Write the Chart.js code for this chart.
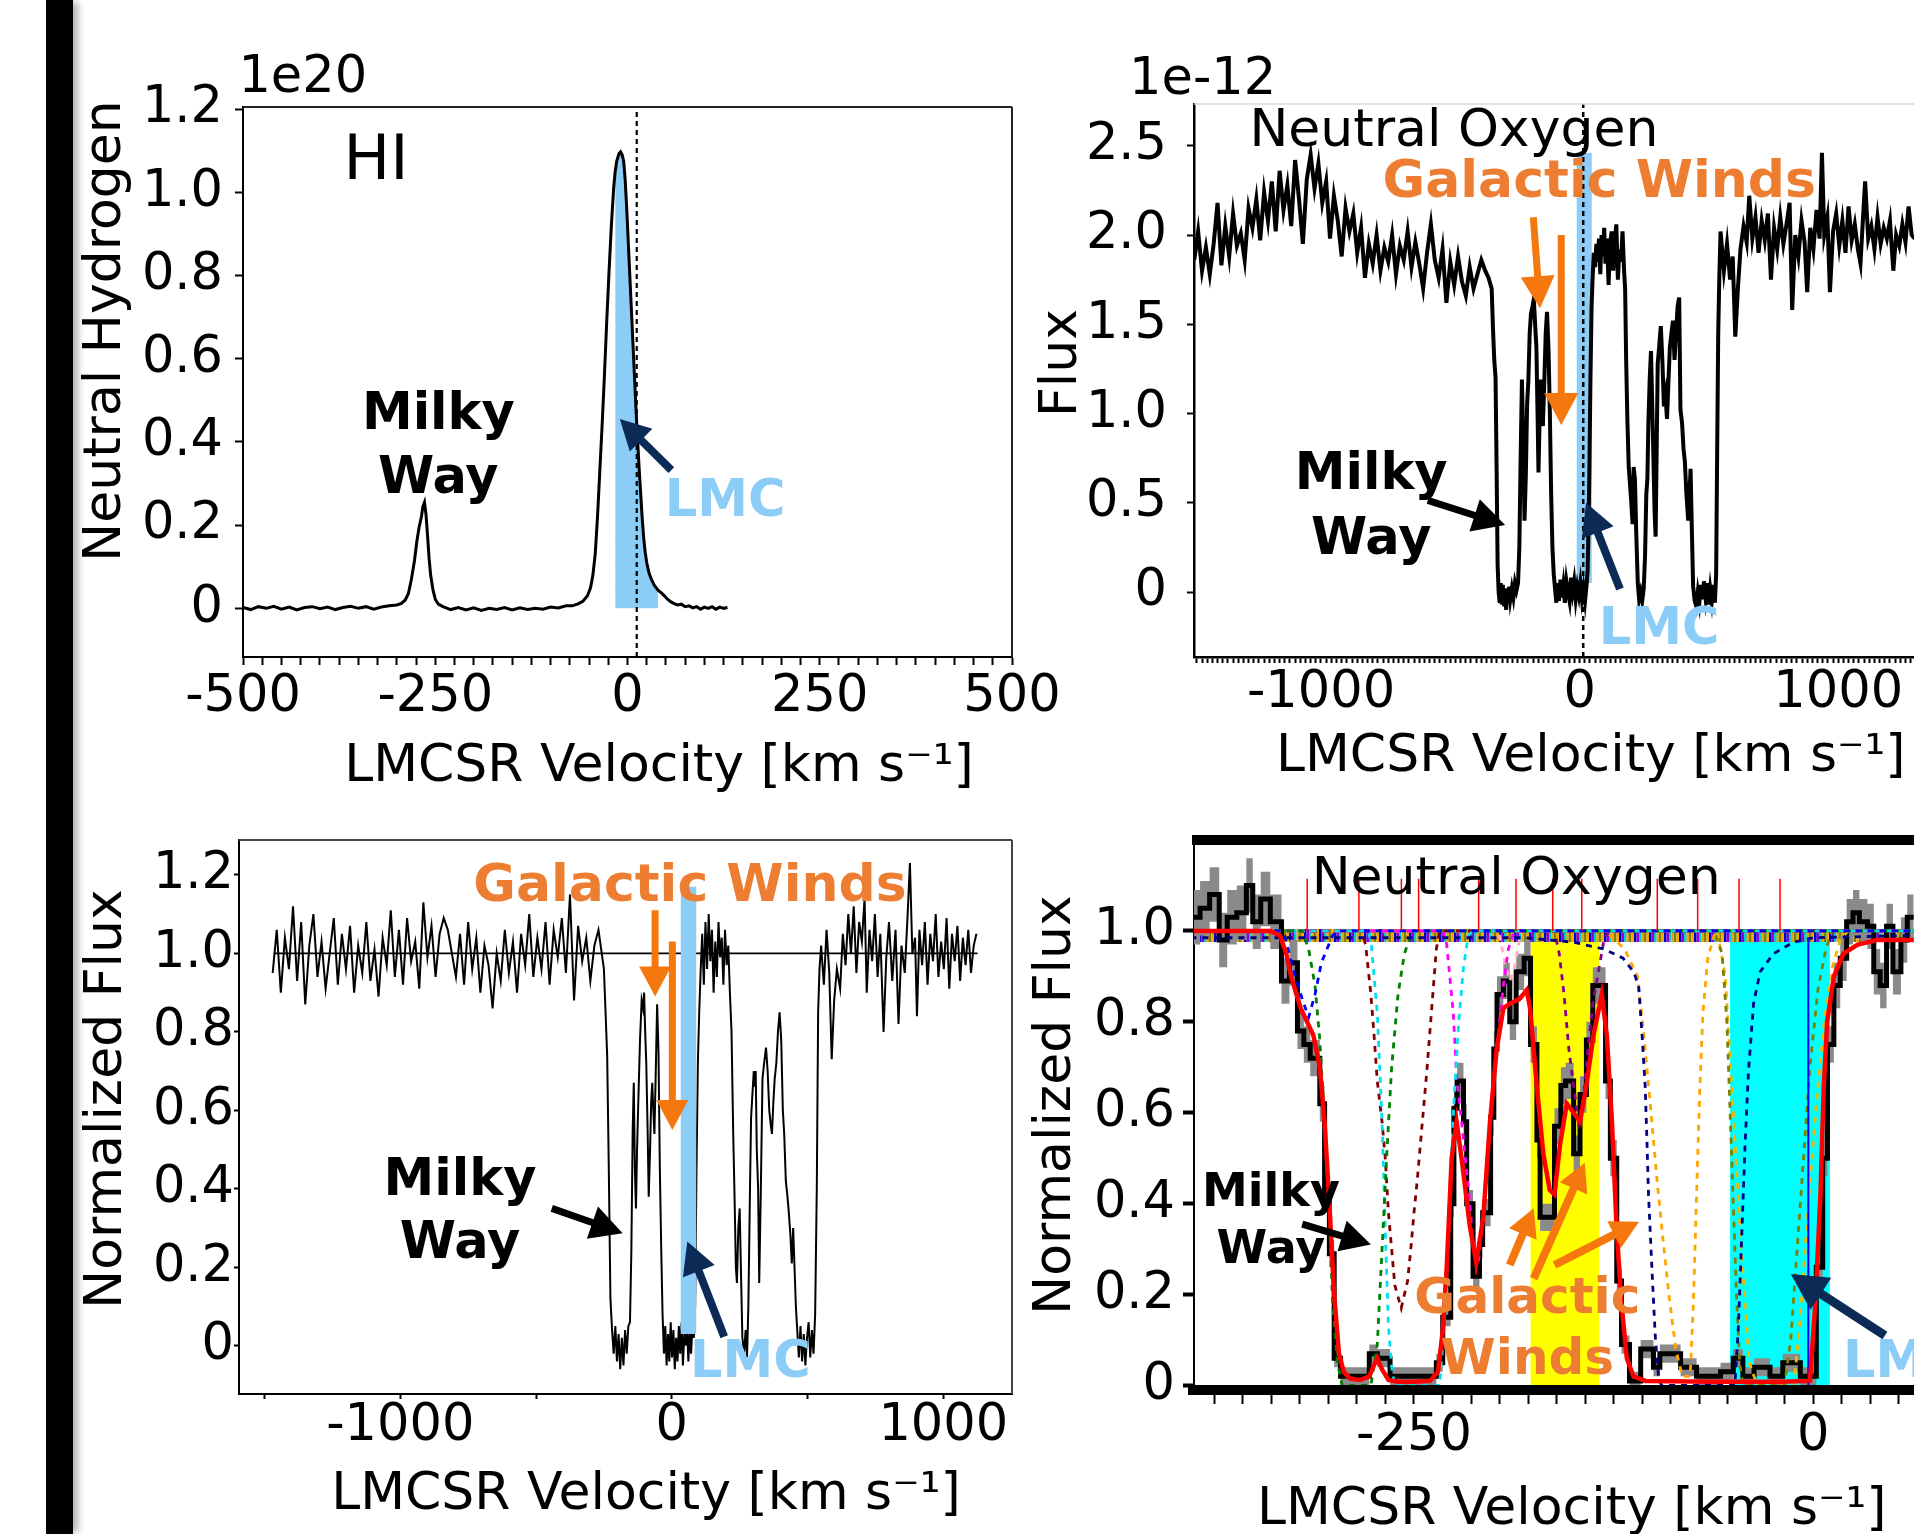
<!DOCTYPE html>
<html>
<head>
<meta charset="utf-8">
<script src="https://cdn.jsdelivr.net/npm/chart.js@4.4.1/dist/chart.umd.min.js"></script>
<style>
html, body { margin:0; padding:0; background:#fff; }
body { width:1914px; height:1534px; position:relative; overflow:hidden; }
#bar { position:absolute; left:46px; top:0; width:27px; height:1534px; background:#000; box-shadow:7px 0 7px -2px rgba(0,0,0,0.3); }
canvas { position:absolute; }
</style>
</head>
<body>
<div id="bar"></div>
<canvas id="hi"></canvas>
<canvas id="oi"></canvas>
<canvas id="norm"></canvas>
<canvas id="fit"></canvas>
<script>
// ---- HI 21cm column (units of 1e20) ----
var hiVel = [-500,-490,-480,-470,-460,-450,-440,-430,-420,-410,
  -400,-390,-380,-370,-360,-350,-340,-330,-320,-310,
  -300,-294,-289,-285,-281,-277,-274,-271,-268,-266,
  -264,-262,-260,-258,-256,-253,-250,-246,-240,-230,
  -220,-210,-200,-190,-180,-170,-160,-150,-140,-130,
  -120,-110,-100,-90,-80,-72,-65,-58,-52,-48,
  -45,-42,-39,-36,-33,-30,-27,-24,-21,-18,
  -16,-14,-11,-9,-7,-5,-3,-1,1,3,
  5,7,9,11,13,15,17,19,21,23,
  25,28,31,35,40,44,48,52,56,60,
  65,70,75,80,85,90,95,100,105,110,
  115,120,125,130];
var hiCol = [0.002,-0.003,0.004,0.0,0.005,-0.002,0.003,-0.004,0.002,0.004,
  -0.001,0.003,-0.003,0.002,0.005,0.0,0.004,-0.002,0.003,0.006,
  0.008,0.012,0.02,0.035,0.07,0.115,0.16,0.195,0.22,0.245,
  0.255,0.225,0.175,0.12,0.08,0.045,0.022,0.01,0.004,-0.003,
  0.002,-0.004,0.001,-0.005,0.0,-0.003,0.002,-0.004,0.001,-0.003,
  0.0,-0.002,0.003,0.001,0.006,0.006,0.01,0.017,0.03,0.05,
  0.08,0.13,0.22,0.33,0.44,0.56,0.69,0.81,0.92,1.01,
  1.05,1.075,1.093,1.097,1.09,1.075,1.03,0.96,0.88,0.80,
  0.72,0.64,0.56,0.48,0.41,0.34,0.28,0.22,0.17,0.135,
  0.11,0.085,0.07,0.055,0.043,0.037,0.03,0.022,0.016,0.012,
  0.008,0.01,0.004,0.006,0.001,0.004,-0.002,0.003,0.0,0.004,
  -0.002,0.003,0.0,0.002];
var hiLmcRange = [-16, 40];
var hiRefVel = 12;

// ---- OI flux (units of 1e-12) ----
var oiVelA = [-1490,-1475,-1460,-1445,-1430,-1415,-1400,-1385,-1370,-1355,
  -1340,-1325,-1310,-1295,-1280,-1265,-1250,-1235,-1220,-1205,
  -1190,-1175,-1160,-1145,-1130,-1115,-1100,-1085,-1070,-1055,
  -1040,-1025,-1010,-995,-980,-965,-950,-935,-920,-905,
  -890,-875,-860,-845,-830,-815,-800,-785,-770,-755,
  -740,-725,-710,-695,-680,-665,-650,-635,-620,-605,
  -590,-575,-560,-545,-530,-515,-500,-485,-470,-455,
  -440,-425,-410,-395,-380,-365,-352];
var oiFluxA = [1.86,2.02,1.80,1.93,1.78,1.95,2.18,1.83,2.05,1.88,
  2.12,1.94,2.01,1.86,2.15,2.04,2.20,1.97,2.24,2.08,
  2.30,2.02,2.36,2.14,2.28,2.05,2.42,2.20,1.95,2.31,
  2.45,2.26,2.40,2.18,2.30,1.98,2.22,2.08,1.88,2.15,
  2.02,2.12,1.90,2.04,1.76,1.95,1.84,2.00,1.80,1.93,
  1.85,2.00,1.78,1.94,1.86,2.02,1.82,1.96,1.84,1.70,
  1.90,2.06,1.86,1.76,1.92,1.62,1.85,1.72,1.88,1.74,
  1.66,1.82,1.70,1.78,1.86,1.80,1.76];
var oiVelB = [-340,-335,-330,-325,-321,-317,-313,-309,-305,-301,
  -297,-292,-288,-284,-280,-276,-272,-268,-262,-256,
  -250,-244,-238,-233,-228,-223,-218,-213,-208,-203,
  -198,-193,-188,-182,-177,-172,-167,-162,-159,-155,
  -152,-147,-142,-136,-131,-126,-120,-115,-110,-105,
  -100,-95,-90,-85,-80,-74,-69,-63,-57,-51,
  -45,-39,-33,-27,-21,-15,-9,-3,3,9,
  15,21,27,31,35,38,42,46,50,55,
  60,65,70,75,80,85,90,95,100,106,
  112,118,124,130,136,142,148,154,160,166,
  172,176,180,185,190,195,200,205,209,214,
  219,225,230,236,242,248,253,258,262,266,
  271,276,280,285,290,294,298,302,308,314,
  320,326,332,338,344,349,355,361,367,373,
  379,385,390,396,402,407,413,420,425,429,
  434,439,445,451,457,463,469,475,481,487,
  493,499,505,511,517,523,528,532,536,540];
var oiFluxB = [1.70,1.48,1.30,1.20,0.70,0.15,0.00,-0.06,0.05,-0.07,
  0.04,-0.08,0.02,-0.10,0.00,-0.05,0.03,-0.04,0.02,-0.03,
  0.05,0.01,0.05,0.25,0.75,1.19,0.85,0.40,0.65,1.05,
  1.19,1.45,1.56,1.60,1.64,1.50,1.37,0.95,0.67,0.95,
  1.19,1.05,0.93,1.20,1.45,1.57,1.35,1.00,0.55,0.25,
  0.10,0.02,-0.06,0.05,-0.05,0.07,-0.03,0.04,-0.06,0.06,
  0.00,-0.05,0.08,0.00,0.06,-0.04,0.03,-0.02,0.05,-0.04,
  0.02,-0.05,0.04,0.12,0.40,0.70,1.20,1.58,1.75,1.90,
  1.82,1.95,1.85,1.98,1.78,2.00,1.88,2.04,1.84,1.98,
  1.72,1.95,2.02,1.80,1.96,2.06,1.75,1.92,1.85,2.02,
  1.80,1.70,1.30,0.95,0.70,0.60,0.50,0.38,0.70,0.63,
  0.33,0.05,-0.04,0.00,-0.05,0.02,0.20,0.55,0.63,0.95,
  1.19,1.35,1.10,0.78,0.45,0.31,0.80,1.28,1.38,1.49,
  1.30,1.04,1.10,0.97,1.20,1.37,1.45,1.52,1.30,1.45,
  1.60,1.65,1.02,0.95,0.80,0.73,0.55,0.40,0.55,0.69,
  0.35,0.03,-0.05,-0.08,0.00,-0.06,0.04,-0.04,0.06,-0.03,
  0.05,-0.07,0.02,-0.05,0.04,-0.06,0.10,0.80,1.45,1.75];
var oiVelC = [545,558,570,582,592,602,612,622,634,646,
  656,668,680,692,704,716,728,740,752,764,
  776,788,800,812,822,834,846,858,870,880,
  892,904,916,928,937,946,958,968,980,992,
  1004,1016,1028,1040,1052,1064,1076,1086,1096,1104,
  1116,1128,1140,1152,1164,1176,1188,1200,1213,1224,
  1236,1248,1260,1272,1284,1296];
var oiFluxC = [2.02,1.80,1.95,1.75,1.88,1.43,1.70,1.92,2.05,1.96,
  2.22,1.98,2.10,1.90,2.08,1.97,2.12,1.75,2.04,1.92,
  2.10,1.95,2.06,2.18,1.58,2.00,1.88,2.08,1.96,1.68,
  2.04,1.92,2.14,1.98,2.46,2.00,2.10,1.68,2.02,2.12,
  1.94,2.08,1.90,2.16,1.97,2.06,1.92,1.84,2.10,2.30,
  1.98,2.05,1.92,2.10,1.95,2.04,1.98,2.08,1.80,2.00,
  1.94,2.06,1.96,2.16,2.00,1.98];
var oiLmcBand = [-11, 47, 0.05, 2.46];
var oiRefVel = 14;

// ---- normalized OI ----
var nVelA = [-1470,-1455,-1440,-1425,-1410,-1395,-1380,-1365,-1350,-1335,
  -1320,-1305,-1290,-1275,-1260,-1245,-1230,-1215,-1200,-1185,
  -1170,-1155,-1140,-1125,-1110,-1095,-1080,-1065,-1050,-1035,
  -1020,-1005,-990,-975,-960,-945,-930,-915,-900,-885,
  -870,-855,-840,-825,-810,-795,-780,-765,-750,-735,
  -720,-705,-690,-675,-660,-645,-630,-615,-600,-585,
  -570,-555,-540,-525,-510,-495,-480,-465,-450,-435,
  -420,-405,-390,-375,-360,-345,-330,-315,-300,-285,
  -270,-258];
var nFluxA = [0.95,1.06,0.90,1.04,0.96,1.12,0.93,1.08,0.87,1.02,
  1.10,0.94,1.03,0.91,1.00,1.09,0.92,1.05,0.96,1.07,
  0.90,1.02,0.95,1.08,0.93,1.01,0.89,1.04,0.97,1.11,
  0.94,1.06,0.92,1.09,0.98,1.03,0.91,1.13,0.99,1.07,
  0.94,1.05,1.09,1.06,1.00,0.94,1.05,0.92,1.08,0.96,
  1.04,0.90,1.02,0.97,0.86,1.00,0.93,1.06,0.95,1.03,
  0.90,1.05,0.97,1.10,0.94,1.04,0.96,1.08,0.92,1.06,
  0.99,1.09,0.95,1.15,0.88,1.07,0.98,1.04,0.93,1.02,
  1.06,1.00];
var nVelB = [-250,-244,-238,-232,-226,-220,-214,-208,-202,-196,
  -190,-184,-178,-172,-166,-160,-154,-149,-144,-140,
  -136,-132,-128,-123,-117,-111,-106,-102,-98,-94,
  -89,-85,-80,-76,-72,-68,-64,-59,-54,-49,
  -44,-39,-34,-29,-24,-19,-14,-9,-4,1,
  6,11,16,21,26,31,36,41,46,51,
  56,61,66,71,76,81,86,91,96,101,
  106,112,118,124,130,136,142,148,154,160,
  166,172,178,184,190,196,202,208,214,220,
  226,232,236,240,245,250,255,260,266,272,
  277,282,288,292,296,302,306,309,313,318,
  322,328,334,340,347,353,359,365,369,374,
  379,385,391,397,403,409,414,420,426,431,
  437,442,447,452,457,462,468,474,480,486,
  492,498,504,510,516,522,528,534,539,544];
var nFluxB = [0.96,0.85,0.74,0.45,0.12,0.04,-0.02,0.05,-0.04,0.03,
  -0.06,0.02,-0.05,0.04,-0.02,0.05,0.06,0.24,0.55,0.67,
  0.45,0.35,0.50,0.63,0.78,0.88,0.86,0.90,0.80,0.72,
  0.55,0.38,0.50,0.62,0.67,0.60,0.54,0.70,0.87,0.75,
  0.45,0.25,0.08,-0.02,0.05,-0.05,0.03,-0.04,0.06,-0.03,
  0.04,-0.06,0.02,-0.04,0.05,-0.02,0.06,-0.05,0.03,0.00,
  0.05,-0.04,0.04,-0.02,0.05,0.02,0.10,0.45,0.72,0.85,
  0.95,1.05,0.92,1.08,0.96,1.10,0.98,1.06,0.90,1.03,
  0.94,1.08,0.99,1.04,0.92,1.06,0.97,1.02,0.90,0.80,
  0.55,0.35,0.20,0.16,0.30,0.35,0.18,0.02,-0.02,0.04,
  -0.03,0.10,0.40,0.58,0.63,0.70,0.66,0.70,0.50,0.40,
  0.16,0.40,0.68,0.72,0.76,0.70,0.60,0.56,0.54,0.62,
  0.68,0.72,0.80,0.85,0.78,0.60,0.54,0.42,0.38,0.34,
  0.28,0.21,0.30,0.20,0.10,0.04,-0.03,0.05,-0.04,0.03,
  -0.05,0.02,0.06,-0.03,0.04,-0.02,0.08,0.40,0.85,0.96];
var nVelC = [550,560,570,580,589,598,608,620,630,640,
  650,660,670,680,690,700,710,718,728,738,
  748,758,768,780,790,800,812,824,835,846,
  858,868,877,886,896,903,912,922,932,942,
  952,962,972,982,992,1002,1012,1022,1032,1042,
  1052,1062,1072,1082,1092,1102,1112,1122];
var nFluxC = [1.02,0.92,1.06,0.95,0.73,0.88,0.96,0.91,1.05,0.97,
  1.10,1.00,1.12,0.95,1.08,1.03,1.14,0.90,1.06,0.98,
  1.10,0.94,1.05,0.80,0.99,1.08,0.93,1.06,0.82,1.02,
  0.95,1.09,1.23,1.00,1.04,0.84,1.06,0.97,1.08,0.92,
  1.05,0.98,1.10,0.94,1.03,0.96,1.09,0.91,1.05,0.98,
  1.07,0.93,1.04,0.97,1.06,0.95,1.02,1.05];
var nContVel = [-1466, 1126];
var nLmcBand = [33, 90, 0.03, 1.17];

// ---- Voigt fit panel ----
var fitVel = [-390,-384,-378,-372,-367,-361,-355,-351,-346,-340,
  -333,-328,-323,-319,-315,-309,-306,-303,-300,-296,
  -278,-273,-265,-236,-232,-227,-225,-223,-219,-217,
  -213,-209,-207,-202,-200,-198,-194,-190,-186,-181,
  -177,-173,-171,-162,-158,-155,-150,-146,-142,-138,
  -130,-127,-123,-120,-115,-108,-100,-96,-83,-73,
  -58,-50,-44,-37,-27,-19,-8,2,6,9,
  13,17,21,25,29,34,38,42,46,50,
  55,59,63];
var fitFlux = [1.03,1.05,1.08,0.98,1.03,1.04,1.10,1.02,1.07,1.02,
  0.89,0.93,0.78,0.75,0.72,0.62,0.42,0.29,0.06,0.02,
  0.07,0.06,0.02,0.05,0.15,0.40,0.61,0.67,0.58,0.40,
  0.24,0.31,0.38,0.59,0.74,0.86,0.89,0.80,0.91,0.94,
  0.75,0.54,0.37,0.57,0.66,0.67,0.51,0.64,0.76,0.88,
  0.67,0.50,0.23,0.09,0.01,0.08,0.04,0.07,0.04,0.02,
  0.03,0.06,0.02,0.04,0.02,0.05,0.02,0.26,0.50,0.75,
  0.88,0.94,1.02,1.04,1.02,1.01,0.91,0.88,1.01,0.91,
  0.98,1.03,1.03];
var fitErr = [0.06,0.06,0.06,0.06,0.06,0.06,0.06,0.06,0.06,0.06,
  0.05,0.05,0.04,0.04,0.04,0.04,0.03,0.03,0.02,0.02,
  0.02,0.02,0.02,0.02,0.02,0.03,0.04,0.04,0.04,0.03,
  0.03,0.03,0.03,0.04,0.04,0.04,0.04,0.04,0.04,0.04,
  0.04,0.04,0.03,0.04,0.04,0.04,0.04,0.04,0.04,0.04,
  0.04,0.04,0.03,0.02,0.02,0.02,0.02,0.02,0.02,0.02,
  0.02,0.02,0.02,0.02,0.02,0.02,0.02,0.03,0.04,0.04,
  0.05,0.05,0.05,0.05,0.05,0.05,0.05,0.05,0.05,0.05,
  0.05,0.05,0.05];
var modelVel = [-390,-340,-334,-330,-327,-321,-317,-313,-309,-306,
  -303,-300,-297,-294,-290,-284,-278,-275,-273,-270,
  -266,-260,-250,-240,-235,-232,-229.5,-226.4,-223.3,-220.2,
  -215,-211,-206.6,-202.4,-198.2,-194,-190,-184,-179.4,-177.3,
  -173.1,-169,-165,-162,-158.5,-154.3,-150,-146,-142,-137.6,
  -132.4,-129.2,-126,-123,-120,-116.7,-112.5,-105,-60,-20,
  -2,1.4,4.6,6.7,8.8,13,19,28,40,63];
var modelFlux = [1.0,1.0,0.99,0.95,0.90,0.83,0.80,0.77,0.70,0.58,
  0.40,0.20,0.07,0.03,0.015,0.012,0.02,0.045,0.06,0.035,
  0.012,0.008,0.008,0.01,0.03,0.12,0.26,0.50,0.58,0.50,
  0.35,0.27,0.37,0.58,0.74,0.83,0.84,0.85,0.87,0.83,
  0.66,0.51,0.43,0.42,0.53,0.62,0.60,0.58,0.66,0.77,
  0.86,0.77,0.58,0.34,0.18,0.06,0.02,0.01,0.008,0.008,
  0.01,0.18,0.42,0.66,0.80,0.90,0.95,0.97,0.98,0.98];
// individual components: [velocity, flux] knots
var compBlue = [[-390,1],[-334,1],[-331,0.99],[-326,0.92],[-320,0.85],[-316,0.81],[-312,0.86],[-308,0.93],[-301,0.99],[-298,1],[63,1]];
var compGreen = [[-390,1],[-320,1],[-316,0.96],[-312,0.88],[-309,0.76],[-306,0.58],[-303,0.38],[-301,0.18],[-298,0.05],[-295,0],[-277,0],[-273,0.09],[-270,0.30],[-267,0.51],[-264,0.70],[-260,0.86],[-256,0.95],[-251,1],[63,1]];
var compCyan = [[-390,1],[-279,1],[-277,0.98],[-273,0.82],[-270,0.58],[-268,0.34],[-266,0.13],[-264,0.04],[-262,0],[-234,0],[-231,0.13],[-228,0.40],[-225,0.62],[-222,0.80],[-219,0.92],[-216,0.99],[-213,1],[63,1]];
var compMaroon = [[-390,1],[-282,1],[-280,0.96],[-277,0.86],[-275,0.77],[-273,0.67],[-270,0.58],[-268,0.50],[-266,0.38],[-264,0.30],[-262,0.22],[-258,0.17],[-254,0.23],[-252,0.30],[-250,0.38],[-248,0.45],[-246,0.53],[-244,0.61],[-242,0.69],[-240,0.78],[-238,0.87],[-236,0.96],[-234,1],[63,1]];
var compMagenta = [[-390,1],[-232,1],[-229.5,0.97],[-225.4,0.82],[-223.3,0.68],[-219,0.54],[-215,0.40],[-212.8,0.30],[-209.7,0.27],[-206.6,0.38],[-202.4,0.58],[-198.2,0.74],[-194,0.88],[-190.9,0.96],[-187,1],[63,1]];
var compPink = [[-390,1],[-197,1],[-193,0.93],[-190,0.89],[-187,0.92],[-183,1],[63,1]];
var compPurple = [[-390,1],[-162,1],[-159,0.95],[-156,0.86],[-153,0.74],[-150,0.66],[-147,0.58],[-144,0.63],[-141,0.74],[-138,0.84],[-134,0.92],[-131,0.98],[-128,1],[63,1]];
var compNavy = [[-390,0.985],[-180,0.985],[-150,0.975],[-131,0.96],[-119,0.94],[-112.5,0.91],[-109.3,0.88],[-107.3,0.78],[-105.2,0.66],[-104.1,0.54],[-103.1,0.42],[-101,0.26],[-98.9,0.11],[-96.8,0.02],[-95,0],[-49,0],[-46.8,0.13],[-44.7,0.33],[-42.6,0.53],[-40.5,0.69],[-37.3,0.84],[-33.2,0.91],[-24.8,0.95],[-12.3,0.975],[0.3,0.985],[63,0.99]];
var compOrange = [[-390,1],[-130,1],[-118,0.96],[-110,0.9],[-106,0.77],[-102,0.62],[-98,0.46],[-94,0.32],[-90,0.19],[-86,0.08],[-82,0.02],[-77,0.02],[-75,0.18],[-73,0.42],[-71,0.65],[-69,0.82],[-66,0.94],[-62,0.99],[-58,1],[63,1]];
var compOlive = [[-390,1],[-62,1],[-57,0.95],[-54,0.8],[-52,0.6],[-50,0.4],[-48,0.2],[-46,0.05],[-44,0],[-18,0],[-14,0.1],[-10,0.3],[-6,0.5],[-2,0.7],[3,0.87],[8,0.96],[12,1],[63,1]];
var compGold = [[-390,1],[-60,1],[-55,0.9],[-50,0.6],[-45,0.3],[-40,0.05],[-35,0],[-12,0],[-8,0.15],[-3,0.4],[2,0.62],[7,0.8],[12,0.92],[17,0.98],[22,1],[63,1]];
var compMarkers = [-316.9,-284.5,-257.9,-247.1,-209.5,-186.1,-163.1,-144.9,-97.6,-72.3,-46.4,-20.7];
var markerTop = 1.115;
var fitLmcLine = -3;
var windBand = [-177, -134];
var lmcBand = [-52, 10.5];

// ---- drawing helpers ----
var FONT = '"DejaVu Sans", Verdana, sans-serif';
var LMC_BLUE = '#8BCDF7', NAVY = '#0B2A55', OR_TXT = '#ED7D31', OR_ARR = '#F5780F';

function pts(xs, ys) { return xs.map(function (x, i) { return {x: x, y: ys[i]}; }); }
function knots(k) { return k.map(function (p) { return {x: p[0], y: p[1]}; }); }
function range(a, b, s) { var r = []; for (var v = a; v <= b + 1e-9; v += s) r.push(v); return r; }

function arrow(ctx, x1, y1, x2, y2, w, hl, hw, color) {
  var dx = x2 - x1, dy = y2 - y1, L = Math.hypot(dx, dy), ux = dx / L, uy = dy / L;
  var bx = x2 - ux * hl, by = y2 - uy * hl;
  ctx.strokeStyle = color; ctx.fillStyle = color; ctx.lineWidth = w; ctx.lineCap = 'butt';
  ctx.beginPath(); ctx.moveTo(x1, y1); ctx.lineTo(bx + ux * 2, by + uy * 2); ctx.stroke();
  ctx.beginPath(); ctx.moveTo(x2, y2);
  ctx.lineTo(bx - uy * hw / 2, by + ux * hw / 2);
  ctx.lineTo(bx + uy * hw / 2, by - ux * hw / 2);
  ctx.closePath(); ctx.fill();
}

function deco(d) {
  function px(c, v) { return c.scales.x.getPixelForValue(v); }
  function py(c, v) { return c.scales.y.getPixelForValue(v); }
  function spans(c, list) {
    var ctx = c.ctx, a = c.chartArea;
    ctx.save(); ctx.beginPath(); ctx.rect(a.left, a.top, a.width, a.height); ctx.clip();
    list.forEach(function (s) {
      var x0 = px(c, s.x0), x1 = px(c, s.x1), y0 = py(c, s.y0), y1 = py(c, s.y1);
      ctx.fillStyle = s.color; ctx.fillRect(x0, y1, x1 - x0, y0 - y1);
    });
    ctx.restore();
  }
  return {
    id: 'deco',
    beforeDatasetsDraw: function (c) {
      var ctx = c.ctx, a = c.chartArea;
      if (d.spans) spans(c, d.spans);
      if (d.hatch) {
        var h = d.hatch, yy = py(c, h.y), n = h.colors.length;
        ctx.save(); ctx.lineWidth = h.width;
        h.colors.forEach(function (col, i) {
          ctx.strokeStyle = col; ctx.setLineDash([h.dash, h.dash * (n - 1)]);
          ctx.lineDashOffset = -i * h.dash;
          ctx.beginPath(); ctx.moveTo(a.left, yy); ctx.lineTo(a.right, yy); ctx.stroke();
        });
        ctx.restore();
      }
    },
    afterDatasetsDraw: function (c) {
      var ctx = c.ctx, a = c.chartArea;
      if (d.spansTop) spans(c, d.spansTop);
      ctx.save();
      (d.frame || []).forEach(function (f) {
        ctx.strokeStyle = f.color; ctx.lineWidth = f.width; ctx.beginPath();
        var e = f.ext || 0;
        if (f.side === 'top') { ctx.moveTo(a.left - e, a.top); ctx.lineTo(a.right, a.top); }
        if (f.side === 'bottom') { ctx.moveTo(a.left - e, a.bottom); ctx.lineTo(a.right, a.bottom); }
        if (f.side === 'right') { ctx.moveTo(a.right, a.top); ctx.lineTo(a.right, a.bottom); }
        if (f.side === 'left') { ctx.moveTo(a.left, a.top); ctx.lineTo(a.left, a.bottom); }
        ctx.stroke();
      });
      (d.arrows || []).forEach(function (r) {
        arrow(ctx, px(c, r.x1), py(c, r.y1), px(c, r.x2), py(c, r.y2), r.w || 7, r.hl || 30, r.hw || 30, r.color);
      });
      ctx.textBaseline = 'middle';
      (d.texts || []).forEach(function (t) {
        ctx.font = (t.bold ? 'bold ' : '') + t.size + 'px ' + FONT;
        ctx.fillStyle = t.color || '#000'; ctx.textAlign = t.align || 'center';
        ctx.fillText(t.t, px(c, t.x), py(c, t.y));
      });
      (d.titles || []).forEach(function (t) {
        ctx.save();
        ctx.font = (t.size || 52) + 'px ' + FONT; ctx.fillStyle = '#000';
        ctx.textAlign = t.align || 'center';
        ctx.translate(t.x - d.off.left, t.y - d.off.top);
        if (t.rot) ctx.rotate(t.rot);
        ctx.fillText(t.t, 0, 0);
        ctx.restore();
      });
      ctx.restore();
    }
  };
}

function axis(o, horiz, size) {
  return {
    type: 'linear', min: o.min, max: o.max, position: horiz ? 'bottom' : 'left',
    afterFit: function (s) {
      if (horiz) { s.height = size; s.paddingLeft = 0; s.paddingRight = 0; }
      else { s.width = size; s.paddingTop = 0; s.paddingBottom = 0; }
    },
    afterBuildTicks: function (s) { s.ticks = o.ticks.map(function (v) { return {value: v}; }); },
    ticks: {
      autoSkip: false, maxRotation: 0, minRotation: 0, padding: o.pad, color: '#000',
      font: {family: FONT, size: o.fs || 51},
      callback: function (v) {
        for (var i = 0; i < o.labels.length; i++) if (Math.abs(o.labels[i] - v) < 1e-6) return o.fmt(o.labels[i]);
        return '';
      }
    },
    grid: {drawOnChartArea: false, drawTicks: true, tickLength: o.tl, tickWidth: o.tw || 2, tickColor: '#000'},
    border: {display: o.border !== false, color: '#000', width: o.bw || 2}
  };
}

function makeChart(id, g, datasets, xo, yo, d) {
  var cv = document.getElementById(id);
  cv.width = g.w; cv.height = g.h;
  cv.style.left = g.left + 'px'; cv.style.top = g.top + 'px';
  cv.style.width = g.w + 'px'; cv.style.height = g.h + 'px';
  d.off = g;
  return new Chart(cv, {
    type: 'line',
    data: {datasets: datasets},
    options: {
      responsive: false, animation: false, devicePixelRatio: 1, events: [],
      layout: {padding: {left: 0, top: g.t, right: g.w - g.r, bottom: 0}},
      plugins: {legend: {display: false}, tooltip: {enabled: false}},
      elements: {point: {radius: 0}, line: {tension: 0}},
      scales: {x: axis(xo, true, g.h - g.b), y: axis(yo, false, g.l)}
    },
    plugins: [deco(d)]
  });
}

function fmt1(v) { return v === 0 ? '0' : v.toFixed(1); }
function fmtInt(v) { return String(Math.round(v)); }
var VEL_TITLE = 'LMCSR Velocity [km s\u207B\u00B9]';

// ---- Panel 1: HI ----
var hiFill = pts(hiVel, hiCol).filter(function (p) { return p.x >= hiLmcRange[0] && p.x <= hiLmcRange[1]; });
makeChart('hi', {left: 75, top: 40, w: 1010, h: 770, l: 168, t: 67, r: 937, b: 617}, [
  {data: pts(hiVel, hiCol), borderColor: '#000', borderWidth: 3, order: 0},
  {data: [{x: hiRefVel, y: -0.117}, {x: hiRefVel, y: 1.205}], borderColor: '#000', borderWidth: 2.2, borderDash: [5, 4], order: 1},
  {data: hiFill, borderColor: 'rgba(0,0,0,0)', borderWidth: 0, backgroundColor: LMC_BLUE, fill: 'origin', order: 2}
], {min: -500, max: 500, ticks: range(-500, 500, 25), labels: [-500, -250, 0, 250, 500], fmt: fmtInt, tl: 8, pad: 2},
   {min: -0.117, max: 1.205, ticks: [0, 0.2, 0.4, 0.6, 0.8, 1.0, 1.2], labels: [0, 0.2, 0.4, 0.6, 0.8, 1.0, 1.2], fmt: fmt1, tl: 8, pad: 12},
{
  frame: [{side: 'top', color: '#222', width: 2}, {side: 'right', color: '#222', width: 2}],
  arrows: [{x1: 57, y1: 0.332, x2: -10, y2: 0.455, color: NAVY, w: 8, hl: 30, hw: 32}],
  texts: [
    {t: '1e20', x: -506, y: 1.273, size: 51, align: 'left'},
    {t: 'HI', x: -327, y: 1.071, size: 62},
    {t: 'Milky', x: -246, y: 0.464, size: 51, bold: true},
    {t: 'Way', x: -246, y: 0.308, size: 51, bold: true},
    {t: 'LMC', x: 127, y: 0.253, size: 51, bold: true, color: LMC_BLUE}
  ],
  titles: [
    {t: VEL_TITLE, x: 659, y: 767, size: 52},
    {t: 'Neutral Hydrogen', x: 106, y: 331, size: 52, rot: -Math.PI / 2}
  ]
});

// ---- Panel 2: OI flux ----
makeChart('oi', {left: 1025, top: 40, w: 889, h: 770, l: 169, t: 64, r: 889, b: 617}, [
  {data: pts(oiVelA.concat(oiVelB, oiVelC), oiFluxA.concat(oiFluxB, oiFluxC)), borderColor: '#000', borderWidth: 4, order: 1},
  {data: [{x: oiRefVel, y: -0.364}, {x: oiRefVel, y: 2.734}], borderColor: '#000', borderWidth: 2.5, borderDash: [5, 4], order: 0}
], {min: -1491, max: 1293, ticks: range(-1480, 1280, 20), labels: [-1000, 0, 1000], fmt: fmtInt, tl: 6, pad: 0, bw: 2.5},
   {min: -0.364, max: 2.734, ticks: [0, 0.5, 1.0, 1.5, 2.0, 2.5], labels: [0, 0.5, 1.0, 1.5, 2.0, 2.5], fmt: fmt1, tl: 7, pad: 20, bw: 2.5},
{
  spans: [{x0: oiLmcBand[0], x1: oiLmcBand[1], y0: oiLmcBand[2], y1: oiLmcBand[3], color: LMC_BLUE}],
  frame: [{side: 'top', color: '#d8d8d8', width: 1.5}],
  arrows: [
    {x1: -179, y1: 2.10, x2: -153, y2: 1.59, color: OR_ARR, w: 7, hl: 32, hw: 34},
    {x1: -71, y1: 2.0, x2: -71, y2: 0.936, color: OR_ARR, w: 7, hl: 32, hw: 34},
    {x1: -587, y1: 0.513, x2: -288, y2: 0.375, color: '#000', w: 7, hl: 32, hw: 34},
    {x1: 156, y1: 0.017, x2: 25, y2: 0.50, color: NAVY, w: 8, hl: 32, hw: 34}
  ],
  texts: [
    {t: '1e-12', x: -1742, y: 2.863, size: 51, align: 'left'},
    {t: 'Neutral Oxygen', x: -486, y: 2.577, size: 52},
    {t: 'Galactic Winds', x: 76, y: 2.291, size: 52, bold: true, color: OR_TXT},
    {t: 'Milky', x: -806, y: 0.65, size: 51, bold: true},
    {t: 'Way', x: -806, y: 0.286, size: 51, bold: true},
    {t: 'LMC', x: 307, y: -0.218, size: 51, bold: true, color: LMC_BLUE}
  ],
  titles: [
    {t: VEL_TITLE, x: 1276, y: 757, size: 52, align: 'left'},
    {t: 'Flux', x: 1062, y: 363, size: 52, rot: -Math.PI / 2}
  ]
});

// ---- Panel 3: normalized flux ----
makeChart('norm', {left: 75, top: 810, w: 965, h: 724, l: 164, t: 30, r: 937, b: 584}, [
  {data: pts(nVelA.concat(nVelB, nVelC), nFluxA.concat(nFluxB, nFluxC)), borderColor: '#000', borderWidth: 2, order: 0},
  {data: [{x: nContVel[0], y: 1}, {x: nContVel[1], y: 1}], borderColor: '#000', borderWidth: 1.6, order: 1}
], {min: -1594, max: 1253, ticks: [-1500, -1000, -500, 0, 500, 1000], labels: [-1000, 0, 1000], fmt: fmtInt, tl: 5, pad: -3, bw: 2},
   {min: -0.123, max: 1.289, ticks: [0, 0.2, 0.4, 0.6, 0.8, 1.0, 1.2], labels: [0, 0.2, 0.4, 0.6, 0.8, 1.0, 1.2], fmt: fmt1, tl: 5, pad: 0, bw: 2},
{
  spansTop: [{x0: nLmcBand[0], x1: nLmcBand[1], y0: nLmcBand[2], y1: nLmcBand[3], color: LMC_BLUE}],
  frame: [{side: 'top', color: '#444', width: 2}, {side: 'right', color: '#444', width: 2}],
  arrows: [
    {x1: -61.5, y1: 1.11, x2: -61.5, y2: 0.89, color: OR_ARR, w: 7, hl: 30, hw: 32},
    {x1: 2, y1: 1.03, x2: 2, y2: 0.55, color: OR_ARR, w: 7, hl: 30, hw: 32},
    {x1: -442, y1: 0.35, x2: -181, y2: 0.287, color: '#000', w: 7, hl: 32, hw: 34},
    {x1: 193, y1: 0.023, x2: 57, y2: 0.266, color: NAVY, w: 8, hl: 32, hw: 34}
  ],
  texts: [
    {t: 'Galactic Winds', x: 67, y: 1.169, size: 52, bold: true, color: OR_TXT},
    {t: 'Milky', x: -780, y: 0.418, size: 51, bold: true},
    {t: 'Way', x: -780, y: 0.257, size: 51, bold: true},
    {t: 'LMC', x: 289, y: -0.046, size: 51, bold: true, color: LMC_BLUE}
  ],
  titles: [
    {t: VEL_TITLE, x: 646, y: 1495, size: 52},
    {t: 'Normalized Flux', x: 107, y: 1099, size: 52, rot: -Math.PI / 2}
  ]
});

// ---- Panel 4: component fit ----
var loBand = pts(fitVel, fitFlux.map(function (f, i) { return f - fitErr[i]; }));
var hiBand = pts(fitVel, fitFlux.map(function (f, i) { return f + fitErr[i]; }));
var markerPts = [];
compMarkers.forEach(function (m) { markerPts.push({x: m, y: 1.0}, {x: m, y: markerTop}, {x: m, y: null}); });
var comps = [
  [compNavy, '#000080'], [compBlue, '#0000FF'], [compGreen, '#008000'], [compCyan, '#00E0F0'],
  [compMaroon, '#800000'], [compMagenta, '#FF00FF'], [compPink, '#FFB0C0'], [compPurple, '#8B008B'],
  [compOrange, '#FFA500'], [compOlive, '#808000'], [compGold, '#F0B800']
];
var fitSets = [
  {data: loBand, stepped: 'before', borderColor: 'rgba(0,0,0,0)', borderWidth: 0, order: 21},
  {data: hiBand, stepped: 'before', borderColor: 'rgba(0,0,0,0)', borderWidth: 0, backgroundColor: '#8a8a8a', fill: '-1', order: 20},
  {data: pts(fitVel, fitFlux), stepped: 'before', borderColor: '#000', borderWidth: 5, order: 15}
];
comps.forEach(function (cp, i) {
  fitSets.push({data: knots(cp[0]), borderColor: cp[1], borderWidth: 2.8, borderDash: [6, 6], order: 5 + i * 0.1});
});
fitSets.push({data: [{x: fitLmcLine, y: 0}, {x: fitLmcLine, y: 0.985}], borderColor: '#0000FF', borderWidth: 2, order: 3});
fitSets.push({data: pts(modelVel, modelFlux), borderColor: '#FF0000', borderWidth: 4.5, order: 2});
fitSets.push({data: markerPts, borderColor: '#FF0000', borderWidth: 1.5, order: 1});

var p4Ticks = range(-7, 17, 1).map(function (k) { return -250 + k * 250 / 14; });
makeChart('fit', {left: 1025, top: 810, w: 889, h: 724, l: 169, t: 30, r: 889, b: 580}, fitSets,
  {min: -387.8, max: 63.2, ticks: p4Ticks, labels: [-250, 0], fmt: fmtInt, tl: 14, pad: 2, border: false},
  {min: -0.01, max: 1.20, ticks: [0, 0.2, 0.4, 0.6, 0.8, 1.0], labels: [0, 0.2, 0.4, 0.6, 0.8, 1.0], fmt: fmt1, tl: 11, tw: 4, pad: 8, bw: 2},
{
  spans: [
    {x0: windBand[0], x1: windBand[1], y0: -0.05, y1: 1.0, color: '#FFFF00'},
    {x0: lmcBand[0], x1: lmcBand[1], y0: -0.05, y1: 1.0, color: '#00FFFF'}
  ],
  hatch: {y: 0.99, width: 13, dash: 2.5, colors: ['#808000', '#FFA500', '#0000CD', '#9400D3', '#00CED1', '#DAA520']},
  frame: [{side: 'top', color: '#000', width: 10, ext: 2}, {side: 'bottom', color: '#000', width: 10, ext: 6}],
  arrows: [
    {x1: -320, y1: 0.355, x2: -277, y2: 0.31, color: '#000', w: 7, hl: 30, hw: 32},
    {x1: -190, y1: 0.265, x2: -175, y2: 0.39, color: OR_ARR, w: 8, hl: 28, hw: 30},
    {x1: -175, y1: 0.235, x2: -143, y2: 0.49, color: OR_ARR, w: 8, hl: 28, hw: 30},
    {x1: -162, y1: 0.265, x2: -109, y2: 0.36, color: OR_ARR, w: 8, hl: 28, hw: 30},
    {x1: 45, y1: 0.11, x2: -14, y2: 0.245, color: NAVY, w: 9, hl: 36, hw: 38}
  ],
  texts: [
    {t: 'Neutral Oxygen', x: -186, y: 1.11, size: 52},
    {t: 'Milky', x: -339.6, y: 0.42, size: 46, bold: true},
    {t: 'Way', x: -339.6, y: 0.296, size: 46, bold: true},
    {t: 'Galactic', x: -179, y: 0.188, size: 50, bold: true, color: OR_TXT},
    {t: 'Winds', x: -179, y: 0.054, size: 50, bold: true, color: OR_TXT},
    {t: 'LMC', x: 18.8, y: 0.047, size: 51, bold: true, color: LMC_BLUE, align: 'left'}
  ],
  titles: [
    {t: VEL_TITLE, x: 1257, y: 1510, size: 52, align: 'left'},
    {t: 'Normalized Flux', x: 1056, y: 1105, size: 52, rot: -Math.PI / 2}
  ]
});
</script>
</body>
</html>
